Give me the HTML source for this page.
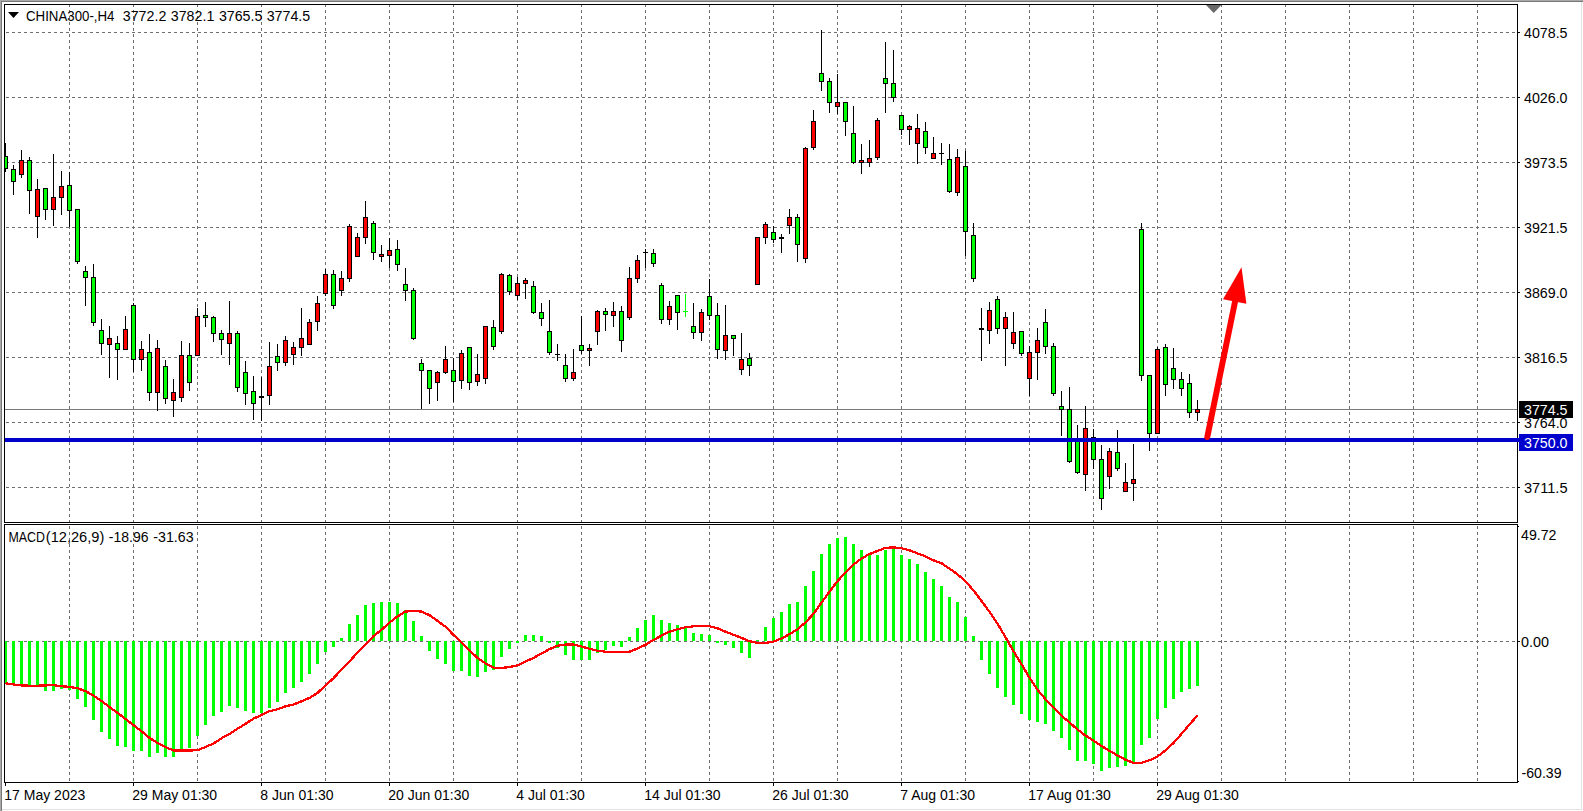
<!DOCTYPE html>
<html><head><meta charset="utf-8"><title>CHINA300-,H4</title>
<style>html,body{margin:0;padding:0;background:#fff;}body{width:1583px;height:811px;overflow:hidden;}svg{display:block;}text{font-family:"Liberation Sans",sans-serif;font-size:14px;fill:#000;}</style>
</head><body>
<svg width="1583" height="811" viewBox="0 0 1583 811">
<rect x="0" y="0" width="1583" height="811" fill="#fff"/>
<g shape-rendering="crispEdges">
<rect x="0" y="0" width="1583" height="1" fill="#a9a9a9"/>
<rect x="0" y="0" width="1" height="811" fill="#a9a9a9"/>
<rect x="1" y="1" width="1582" height="1" fill="#787878"/>
<rect x="1" y="1" width="1" height="810" fill="#787878"/>
<rect x="2" y="809" width="1580" height="1" fill="#e3e3e3"/>
<rect x="1581" y="2" width="1" height="808" fill="#e3e3e3"/>
<g stroke="#6e6e6e" stroke-width="1" stroke-dasharray="3 3" fill="none">
<line x1="69.5" y1="4" x2="69.5" y2="782"/>
<line x1="133.5" y1="4" x2="133.5" y2="782"/>
<line x1="197.5" y1="4" x2="197.5" y2="782"/>
<line x1="261.5" y1="4" x2="261.5" y2="782"/>
<line x1="325.5" y1="4" x2="325.5" y2="782"/>
<line x1="389.5" y1="4" x2="389.5" y2="782"/>
<line x1="453.5" y1="4" x2="453.5" y2="782"/>
<line x1="517.5" y1="4" x2="517.5" y2="782"/>
<line x1="581.5" y1="4" x2="581.5" y2="782"/>
<line x1="645.5" y1="4" x2="645.5" y2="782"/>
<line x1="709.5" y1="4" x2="709.5" y2="782"/>
<line x1="773.5" y1="4" x2="773.5" y2="782"/>
<line x1="837.5" y1="4" x2="837.5" y2="782"/>
<line x1="901.5" y1="4" x2="901.5" y2="782"/>
<line x1="965.5" y1="4" x2="965.5" y2="782"/>
<line x1="1029.5" y1="4" x2="1029.5" y2="782"/>
<line x1="1093.5" y1="4" x2="1093.5" y2="782"/>
<line x1="1157.5" y1="4" x2="1157.5" y2="782"/>
<line x1="1221.5" y1="4" x2="1221.5" y2="782"/>
<line x1="1285.5" y1="4" x2="1285.5" y2="782"/>
<line x1="1349.5" y1="4" x2="1349.5" y2="782"/>
<line x1="1413.5" y1="4" x2="1413.5" y2="782"/>
<line x1="1477.5" y1="4" x2="1477.5" y2="782"/>
<line x1="6" y1="32.5" x2="1517" y2="32.5"/>
<line x1="6" y1="97.5" x2="1517" y2="97.5"/>
<line x1="6" y1="162.5" x2="1517" y2="162.5"/>
<line x1="6" y1="227.5" x2="1517" y2="227.5"/>
<line x1="6" y1="292.5" x2="1517" y2="292.5"/>
<line x1="6" y1="357.5" x2="1517" y2="357.5"/>
<line x1="6" y1="422.5" x2="1517" y2="422.5"/>
<line x1="6" y1="487.5" x2="1517" y2="487.5"/>
<line x1="6" y1="641.5" x2="1517" y2="641.5"/>
</g>
<rect x="2" y="523" width="1579" height="1" fill="#fff"/>
<rect x="5" y="409" width="1512" height="1" fill="#7a7a7a"/>
<clipPath id="cm"><rect x="5" y="5" width="1512" height="517"/></clipPath><g clip-path="url(#cm)">
<rect x="5" y="143" width="1" height="29" fill="#000"/>
<rect x="3" y="156" width="5" height="13" fill="#000"/>
<rect x="4" y="157" width="3" height="11" fill="#00FF00"/>
<rect x="13" y="165" width="1" height="30" fill="#000"/>
<rect x="11" y="169" width="5" height="13" fill="#000"/>
<rect x="12" y="170" width="3" height="11" fill="#00FF00"/>
<rect x="21" y="150" width="1" height="28" fill="#000"/>
<rect x="19" y="160" width="5" height="15" fill="#000"/>
<rect x="20" y="161" width="3" height="13" fill="#FF0000"/>
<rect x="29" y="157" width="1" height="57" fill="#000"/>
<rect x="27" y="160" width="5" height="31" fill="#000"/>
<rect x="28" y="161" width="3" height="29" fill="#00FF00"/>
<rect x="37" y="179" width="1" height="59" fill="#000"/>
<rect x="35" y="189" width="5" height="28" fill="#000"/>
<rect x="36" y="190" width="3" height="26" fill="#FF0000"/>
<rect x="45" y="188" width="1" height="32" fill="#000"/>
<rect x="43" y="188" width="5" height="22" fill="#000"/>
<rect x="44" y="189" width="3" height="20" fill="#00FF00"/>
<rect x="53" y="154" width="1" height="72" fill="#000"/>
<rect x="51" y="197" width="5" height="13" fill="#000"/>
<rect x="52" y="198" width="3" height="11" fill="#FF0000"/>
<rect x="61" y="171" width="1" height="44" fill="#000"/>
<rect x="59" y="186" width="5" height="12" fill="#000"/>
<rect x="60" y="187" width="3" height="10" fill="#FF0000"/>
<rect x="69" y="172" width="1" height="55" fill="#000"/>
<rect x="67" y="185" width="5" height="26" fill="#000"/>
<rect x="68" y="186" width="3" height="24" fill="#00FF00"/>
<rect x="77" y="209" width="1" height="55" fill="#000"/>
<rect x="75" y="209" width="5" height="53" fill="#000"/>
<rect x="76" y="210" width="3" height="51" fill="#00FF00"/>
<rect x="85" y="266" width="1" height="40" fill="#000"/>
<rect x="83" y="271" width="5" height="7" fill="#000"/>
<rect x="84" y="272" width="3" height="5" fill="#00FF00"/>
<rect x="93" y="264" width="1" height="62" fill="#000"/>
<rect x="91" y="277" width="5" height="46" fill="#000"/>
<rect x="92" y="278" width="3" height="44" fill="#00FF00"/>
<rect x="101" y="319" width="1" height="36" fill="#000"/>
<rect x="99" y="330" width="5" height="14" fill="#000"/>
<rect x="100" y="331" width="3" height="12" fill="#00FF00"/>
<rect x="109" y="326" width="1" height="52" fill="#000"/>
<rect x="107" y="338" width="5" height="7" fill="#000"/>
<rect x="108" y="339" width="3" height="5" fill="#FF0000"/>
<rect x="117" y="336" width="1" height="44" fill="#000"/>
<rect x="115" y="343" width="5" height="7" fill="#000"/>
<rect x="116" y="344" width="3" height="5" fill="#00FF00"/>
<rect x="125" y="316" width="1" height="33" fill="#000"/>
<rect x="123" y="329" width="5" height="21" fill="#000"/>
<rect x="124" y="330" width="3" height="19" fill="#FF0000"/>
<rect x="133" y="303" width="1" height="69" fill="#000"/>
<rect x="131" y="305" width="5" height="55" fill="#000"/>
<rect x="132" y="306" width="3" height="53" fill="#00FF00"/>
<rect x="141" y="341" width="1" height="30" fill="#000"/>
<rect x="139" y="349" width="5" height="11" fill="#000"/>
<rect x="140" y="350" width="3" height="9" fill="#FF0000"/>
<rect x="149" y="334" width="1" height="67" fill="#000"/>
<rect x="147" y="352" width="5" height="41" fill="#000"/>
<rect x="148" y="353" width="3" height="39" fill="#00FF00"/>
<rect x="157" y="340" width="1" height="71" fill="#000"/>
<rect x="155" y="348" width="5" height="45" fill="#000"/>
<rect x="156" y="349" width="3" height="43" fill="#FF0000"/>
<rect x="165" y="360" width="1" height="44" fill="#000"/>
<rect x="163" y="366" width="5" height="33" fill="#000"/>
<rect x="164" y="367" width="3" height="31" fill="#00FF00"/>
<rect x="173" y="379" width="1" height="38" fill="#000"/>
<rect x="171" y="392" width="5" height="9" fill="#000"/>
<rect x="172" y="393" width="3" height="7" fill="#FF0000"/>
<rect x="181" y="341" width="1" height="61" fill="#000"/>
<rect x="179" y="355" width="5" height="43" fill="#000"/>
<rect x="180" y="356" width="3" height="41" fill="#FF0000"/>
<rect x="189" y="343" width="1" height="48" fill="#000"/>
<rect x="187" y="355" width="5" height="28" fill="#000"/>
<rect x="188" y="356" width="3" height="26" fill="#00FF00"/>
<rect x="197" y="308" width="1" height="47" fill="#000"/>
<rect x="195" y="316" width="5" height="40" fill="#000"/>
<rect x="196" y="317" width="3" height="38" fill="#FF0000"/>
<rect x="205" y="302" width="1" height="25" fill="#000"/>
<rect x="203" y="315" width="5" height="3" fill="#000"/>
<rect x="204" y="316" width="3" height="1" fill="#00FF00"/>
<rect x="213" y="316" width="1" height="26" fill="#000"/>
<rect x="211" y="317" width="5" height="17" fill="#000"/>
<rect x="212" y="318" width="3" height="15" fill="#00FF00"/>
<rect x="221" y="330" width="1" height="25" fill="#000"/>
<rect x="219" y="333" width="5" height="7" fill="#000"/>
<rect x="220" y="334" width="3" height="5" fill="#00FF00"/>
<rect x="229" y="301" width="1" height="64" fill="#000"/>
<rect x="227" y="333" width="5" height="11" fill="#000"/>
<rect x="228" y="334" width="3" height="9" fill="#FF0000"/>
<rect x="237" y="331" width="1" height="61" fill="#000"/>
<rect x="235" y="333" width="5" height="55" fill="#000"/>
<rect x="236" y="334" width="3" height="53" fill="#00FF00"/>
<rect x="245" y="361" width="1" height="44" fill="#000"/>
<rect x="243" y="372" width="5" height="22" fill="#000"/>
<rect x="244" y="373" width="3" height="20" fill="#00FF00"/>
<rect x="253" y="376" width="1" height="44" fill="#000"/>
<rect x="251" y="391" width="5" height="13" fill="#000"/>
<rect x="252" y="392" width="3" height="11" fill="#00FF00"/>
<rect x="261" y="377" width="1" height="44" fill="#000"/>
<rect x="259" y="396" width="5" height="1" fill="#000"/>
<rect x="259" y="396" width="5" height="2" fill="#000"/>
<rect x="269" y="342" width="1" height="63" fill="#000"/>
<rect x="267" y="366" width="5" height="30" fill="#000"/>
<rect x="268" y="367" width="3" height="28" fill="#FF0000"/>
<rect x="277" y="344" width="1" height="27" fill="#000"/>
<rect x="275" y="356" width="5" height="7" fill="#000"/>
<rect x="276" y="357" width="3" height="5" fill="#00FF00"/>
<rect x="285" y="336" width="1" height="30" fill="#000"/>
<rect x="283" y="340" width="5" height="23" fill="#000"/>
<rect x="284" y="341" width="3" height="21" fill="#FF0000"/>
<rect x="293" y="342" width="1" height="23" fill="#000"/>
<rect x="291" y="347" width="5" height="8" fill="#000"/>
<rect x="292" y="348" width="3" height="6" fill="#FF0000"/>
<rect x="301" y="308" width="1" height="48" fill="#000"/>
<rect x="299" y="338" width="5" height="10" fill="#000"/>
<rect x="300" y="339" width="3" height="8" fill="#FF0000"/>
<rect x="309" y="319" width="1" height="25" fill="#000"/>
<rect x="307" y="322" width="5" height="23" fill="#000"/>
<rect x="308" y="323" width="3" height="21" fill="#FF0000"/>
<rect x="317" y="296" width="1" height="35" fill="#000"/>
<rect x="315" y="303" width="5" height="19" fill="#000"/>
<rect x="316" y="304" width="3" height="17" fill="#FF0000"/>
<rect x="325" y="269" width="1" height="27" fill="#000"/>
<rect x="323" y="274" width="5" height="20" fill="#000"/>
<rect x="324" y="275" width="3" height="18" fill="#FF0000"/>
<rect x="333" y="270" width="1" height="39" fill="#000"/>
<rect x="331" y="274" width="5" height="32" fill="#000"/>
<rect x="332" y="275" width="3" height="30" fill="#00FF00"/>
<rect x="341" y="271" width="1" height="25" fill="#000"/>
<rect x="339" y="278" width="5" height="13" fill="#000"/>
<rect x="340" y="279" width="3" height="11" fill="#FF0000"/>
<rect x="349" y="224" width="1" height="58" fill="#000"/>
<rect x="347" y="226" width="5" height="53" fill="#000"/>
<rect x="348" y="227" width="3" height="51" fill="#FF0000"/>
<rect x="357" y="233" width="1" height="23" fill="#000"/>
<rect x="355" y="237" width="5" height="20" fill="#000"/>
<rect x="356" y="238" width="3" height="18" fill="#FF0000"/>
<rect x="365" y="201" width="1" height="43" fill="#000"/>
<rect x="363" y="217" width="5" height="21" fill="#000"/>
<rect x="364" y="218" width="3" height="19" fill="#FF0000"/>
<rect x="373" y="221" width="1" height="39" fill="#000"/>
<rect x="371" y="223" width="5" height="30" fill="#000"/>
<rect x="372" y="224" width="3" height="28" fill="#00FF00"/>
<rect x="381" y="245" width="1" height="17" fill="#000"/>
<rect x="379" y="254" width="5" height="3" fill="#000"/>
<rect x="380" y="255" width="3" height="1" fill="#FF0000"/>
<rect x="389" y="238" width="1" height="30" fill="#000"/>
<rect x="387" y="250" width="5" height="6" fill="#000"/>
<rect x="388" y="251" width="3" height="4" fill="#FF0000"/>
<rect x="397" y="240" width="1" height="31" fill="#000"/>
<rect x="395" y="249" width="5" height="16" fill="#000"/>
<rect x="396" y="250" width="3" height="14" fill="#00FF00"/>
<rect x="405" y="268" width="1" height="33" fill="#000"/>
<rect x="403" y="284" width="5" height="7" fill="#000"/>
<rect x="404" y="285" width="3" height="5" fill="#00FF00"/>
<rect x="413" y="288" width="1" height="52" fill="#000"/>
<rect x="411" y="290" width="5" height="49" fill="#000"/>
<rect x="412" y="291" width="3" height="47" fill="#00FF00"/>
<rect x="421" y="359" width="1" height="50" fill="#000"/>
<rect x="419" y="363" width="5" height="8" fill="#000"/>
<rect x="420" y="364" width="3" height="6" fill="#00FF00"/>
<rect x="429" y="370" width="1" height="34" fill="#000"/>
<rect x="427" y="370" width="5" height="19" fill="#000"/>
<rect x="428" y="371" width="3" height="17" fill="#00FF00"/>
<rect x="437" y="371" width="1" height="30" fill="#000"/>
<rect x="435" y="372" width="5" height="11" fill="#000"/>
<rect x="436" y="373" width="3" height="9" fill="#FF0000"/>
<rect x="445" y="346" width="1" height="28" fill="#000"/>
<rect x="443" y="359" width="5" height="14" fill="#000"/>
<rect x="444" y="360" width="3" height="12" fill="#FF0000"/>
<rect x="453" y="358" width="1" height="44" fill="#000"/>
<rect x="451" y="370" width="5" height="12" fill="#000"/>
<rect x="452" y="371" width="3" height="10" fill="#00FF00"/>
<rect x="461" y="350" width="1" height="39" fill="#000"/>
<rect x="459" y="353" width="5" height="28" fill="#000"/>
<rect x="460" y="354" width="3" height="26" fill="#FF0000"/>
<rect x="469" y="347" width="1" height="43" fill="#000"/>
<rect x="467" y="347" width="5" height="36" fill="#000"/>
<rect x="468" y="348" width="3" height="34" fill="#00FF00"/>
<rect x="477" y="354" width="1" height="32" fill="#000"/>
<rect x="475" y="374" width="5" height="8" fill="#000"/>
<rect x="476" y="375" width="3" height="6" fill="#FF0000"/>
<rect x="485" y="326" width="1" height="58" fill="#000"/>
<rect x="483" y="326" width="5" height="53" fill="#000"/>
<rect x="484" y="327" width="3" height="51" fill="#FF0000"/>
<rect x="493" y="320" width="1" height="30" fill="#000"/>
<rect x="491" y="327" width="5" height="20" fill="#000"/>
<rect x="492" y="328" width="3" height="18" fill="#00FF00"/>
<rect x="501" y="273" width="1" height="61" fill="#000"/>
<rect x="499" y="274" width="5" height="58" fill="#000"/>
<rect x="500" y="275" width="3" height="56" fill="#FF0000"/>
<rect x="509" y="274" width="1" height="21" fill="#000"/>
<rect x="507" y="275" width="5" height="17" fill="#000"/>
<rect x="508" y="276" width="3" height="15" fill="#00FF00"/>
<rect x="517" y="277" width="1" height="23" fill="#000"/>
<rect x="515" y="283" width="5" height="13" fill="#000"/>
<rect x="516" y="284" width="3" height="11" fill="#FF0000"/>
<rect x="525" y="278" width="1" height="21" fill="#000"/>
<rect x="523" y="280" width="5" height="4" fill="#000"/>
<rect x="524" y="281" width="3" height="2" fill="#FF0000"/>
<rect x="533" y="281" width="1" height="33" fill="#000"/>
<rect x="531" y="286" width="5" height="27" fill="#000"/>
<rect x="532" y="287" width="3" height="25" fill="#00FF00"/>
<rect x="541" y="303" width="1" height="23" fill="#000"/>
<rect x="539" y="312" width="5" height="7" fill="#000"/>
<rect x="540" y="313" width="3" height="5" fill="#00FF00"/>
<rect x="549" y="300" width="1" height="55" fill="#000"/>
<rect x="547" y="331" width="5" height="22" fill="#000"/>
<rect x="548" y="332" width="3" height="20" fill="#00FF00"/>
<rect x="557" y="344" width="1" height="17" fill="#000"/>
<rect x="555" y="354" width="5" height="1" fill="#000"/>
<rect x="565" y="354" width="1" height="28" fill="#000"/>
<rect x="563" y="365" width="5" height="14" fill="#000"/>
<rect x="564" y="366" width="3" height="12" fill="#00FF00"/>
<rect x="573" y="349" width="1" height="32" fill="#000"/>
<rect x="571" y="372" width="5" height="7" fill="#000"/>
<rect x="572" y="373" width="3" height="5" fill="#FF0000"/>
<rect x="581" y="316" width="1" height="38" fill="#000"/>
<rect x="579" y="345" width="5" height="6" fill="#000"/>
<rect x="580" y="346" width="3" height="4" fill="#00FF00"/>
<rect x="589" y="344" width="1" height="22" fill="#000"/>
<rect x="587" y="348" width="5" height="3" fill="#000"/>
<rect x="588" y="349" width="3" height="1" fill="#FF0000"/>
<rect x="597" y="310" width="1" height="35" fill="#000"/>
<rect x="595" y="311" width="5" height="21" fill="#000"/>
<rect x="596" y="312" width="3" height="19" fill="#FF0000"/>
<rect x="605" y="308" width="1" height="23" fill="#000"/>
<rect x="603" y="311" width="5" height="4" fill="#000"/>
<rect x="604" y="312" width="3" height="2" fill="#00FF00"/>
<rect x="613" y="302" width="1" height="25" fill="#000"/>
<rect x="611" y="311" width="5" height="5" fill="#000"/>
<rect x="612" y="312" width="3" height="3" fill="#FF0000"/>
<rect x="621" y="306" width="1" height="46" fill="#000"/>
<rect x="619" y="311" width="5" height="30" fill="#000"/>
<rect x="620" y="312" width="3" height="28" fill="#00FF00"/>
<rect x="629" y="267" width="1" height="53" fill="#000"/>
<rect x="627" y="278" width="5" height="40" fill="#000"/>
<rect x="628" y="279" width="3" height="38" fill="#FF0000"/>
<rect x="637" y="255" width="1" height="28" fill="#000"/>
<rect x="635" y="260" width="5" height="19" fill="#000"/>
<rect x="636" y="261" width="3" height="17" fill="#FF0000"/>
<rect x="645" y="249" width="1" height="19" fill="#000"/>
<rect x="643" y="252" width="5" height="1" fill="#000"/>
<rect x="653" y="249" width="1" height="18" fill="#000"/>
<rect x="651" y="253" width="5" height="11" fill="#000"/>
<rect x="652" y="254" width="3" height="9" fill="#00FF00"/>
<rect x="661" y="283" width="1" height="41" fill="#000"/>
<rect x="659" y="285" width="5" height="35" fill="#000"/>
<rect x="660" y="286" width="3" height="33" fill="#00FF00"/>
<rect x="669" y="301" width="1" height="24" fill="#000"/>
<rect x="667" y="306" width="5" height="14" fill="#000"/>
<rect x="668" y="307" width="3" height="12" fill="#FF0000"/>
<rect x="677" y="295" width="1" height="35" fill="#000"/>
<rect x="675" y="295" width="5" height="18" fill="#000"/>
<rect x="676" y="296" width="3" height="16" fill="#00FF00"/>
<rect x="685" y="294" width="1" height="23" fill="#00FF00"/>
<rect x="683" y="311" width="5" height="1" fill="#00FF00"/>
<rect x="693" y="303" width="1" height="36" fill="#000"/>
<rect x="691" y="326" width="5" height="7" fill="#000"/>
<rect x="692" y="327" width="3" height="5" fill="#00FF00"/>
<rect x="701" y="309" width="1" height="32" fill="#000"/>
<rect x="699" y="312" width="5" height="21" fill="#000"/>
<rect x="700" y="313" width="3" height="19" fill="#FF0000"/>
<rect x="709" y="279" width="1" height="41" fill="#000"/>
<rect x="707" y="296" width="5" height="20" fill="#000"/>
<rect x="708" y="297" width="3" height="18" fill="#00FF00"/>
<rect x="717" y="303" width="1" height="56" fill="#000"/>
<rect x="715" y="315" width="5" height="35" fill="#000"/>
<rect x="716" y="316" width="3" height="33" fill="#00FF00"/>
<rect x="725" y="305" width="1" height="55" fill="#000"/>
<rect x="723" y="335" width="5" height="16" fill="#000"/>
<rect x="724" y="336" width="3" height="14" fill="#FF0000"/>
<rect x="733" y="335" width="1" height="21" fill="#000"/>
<rect x="731" y="335" width="5" height="4" fill="#000"/>
<rect x="732" y="336" width="3" height="2" fill="#00FF00"/>
<rect x="741" y="333" width="1" height="42" fill="#000"/>
<rect x="739" y="359" width="5" height="11" fill="#000"/>
<rect x="740" y="360" width="3" height="9" fill="#FF0000"/>
<rect x="749" y="353" width="1" height="23" fill="#000"/>
<rect x="747" y="358" width="5" height="8" fill="#000"/>
<rect x="748" y="359" width="3" height="6" fill="#00FF00"/>
<rect x="757" y="237" width="1" height="47" fill="#000"/>
<rect x="755" y="237" width="5" height="48" fill="#000"/>
<rect x="756" y="238" width="3" height="46" fill="#FF0000"/>
<rect x="765" y="222" width="1" height="22" fill="#000"/>
<rect x="763" y="224" width="5" height="14" fill="#000"/>
<rect x="764" y="225" width="3" height="12" fill="#FF0000"/>
<rect x="773" y="226" width="1" height="17" fill="#000"/>
<rect x="771" y="232" width="5" height="8" fill="#000"/>
<rect x="772" y="233" width="3" height="6" fill="#00FF00"/>
<rect x="781" y="234" width="1" height="19" fill="#000"/>
<rect x="779" y="237" width="5" height="1" fill="#000"/>
<rect x="779" y="237" width="5" height="2" fill="#000"/>
<rect x="789" y="209" width="1" height="25" fill="#000"/>
<rect x="787" y="217" width="5" height="9" fill="#000"/>
<rect x="788" y="218" width="3" height="7" fill="#FF0000"/>
<rect x="797" y="214" width="1" height="48" fill="#000"/>
<rect x="795" y="217" width="5" height="28" fill="#000"/>
<rect x="796" y="218" width="3" height="26" fill="#00FF00"/>
<rect x="805" y="147" width="1" height="116" fill="#000"/>
<rect x="803" y="148" width="5" height="111" fill="#000"/>
<rect x="804" y="149" width="3" height="109" fill="#FF0000"/>
<rect x="813" y="110" width="1" height="40" fill="#000"/>
<rect x="811" y="121" width="5" height="27" fill="#000"/>
<rect x="812" y="122" width="3" height="25" fill="#FF0000"/>
<rect x="821" y="30" width="1" height="61" fill="#000"/>
<rect x="819" y="73" width="5" height="9" fill="#000"/>
<rect x="820" y="74" width="3" height="7" fill="#00FF00"/>
<rect x="829" y="78" width="1" height="35" fill="#000"/>
<rect x="827" y="81" width="5" height="22" fill="#000"/>
<rect x="828" y="82" width="3" height="20" fill="#00FF00"/>
<rect x="837" y="74" width="1" height="40" fill="#000"/>
<rect x="835" y="102" width="5" height="5" fill="#000"/>
<rect x="836" y="103" width="3" height="3" fill="#FF0000"/>
<rect x="845" y="102" width="1" height="34" fill="#000"/>
<rect x="843" y="102" width="5" height="20" fill="#000"/>
<rect x="844" y="103" width="3" height="18" fill="#00FF00"/>
<rect x="853" y="106" width="1" height="58" fill="#000"/>
<rect x="851" y="133" width="5" height="30" fill="#000"/>
<rect x="852" y="134" width="3" height="28" fill="#00FF00"/>
<rect x="861" y="144" width="1" height="30" fill="#000"/>
<rect x="859" y="160" width="5" height="3" fill="#000"/>
<rect x="860" y="161" width="3" height="1" fill="#FF0000"/>
<rect x="869" y="140" width="1" height="27" fill="#000"/>
<rect x="867" y="158" width="5" height="5" fill="#000"/>
<rect x="868" y="159" width="3" height="3" fill="#FF0000"/>
<rect x="877" y="118" width="1" height="42" fill="#000"/>
<rect x="875" y="120" width="5" height="38" fill="#000"/>
<rect x="876" y="121" width="3" height="36" fill="#FF0000"/>
<rect x="885" y="42" width="1" height="71" fill="#000"/>
<rect x="883" y="78" width="5" height="6" fill="#000"/>
<rect x="884" y="79" width="3" height="4" fill="#00FF00"/>
<rect x="893" y="50" width="1" height="52" fill="#000"/>
<rect x="891" y="83" width="5" height="15" fill="#000"/>
<rect x="892" y="84" width="3" height="13" fill="#00FF00"/>
<rect x="901" y="115" width="1" height="20" fill="#000"/>
<rect x="899" y="115" width="5" height="15" fill="#000"/>
<rect x="900" y="116" width="3" height="13" fill="#00FF00"/>
<rect x="909" y="125" width="1" height="20" fill="#000"/>
<rect x="907" y="126" width="5" height="4" fill="#000"/>
<rect x="908" y="127" width="3" height="2" fill="#FF0000"/>
<rect x="917" y="114" width="1" height="50" fill="#000"/>
<rect x="915" y="128" width="5" height="16" fill="#000"/>
<rect x="916" y="129" width="3" height="14" fill="#FF0000"/>
<rect x="925" y="122" width="1" height="32" fill="#000"/>
<rect x="923" y="131" width="5" height="17" fill="#000"/>
<rect x="924" y="132" width="3" height="15" fill="#00FF00"/>
<rect x="933" y="137" width="1" height="21" fill="#000"/>
<rect x="931" y="153" width="5" height="6" fill="#000"/>
<rect x="932" y="154" width="3" height="4" fill="#FF0000"/>
<rect x="941" y="143" width="1" height="22" fill="#000"/>
<rect x="939" y="153" width="5" height="1" fill="#000"/>
<rect x="949" y="144" width="1" height="49" fill="#000"/>
<rect x="947" y="159" width="5" height="33" fill="#000"/>
<rect x="948" y="160" width="3" height="31" fill="#00FF00"/>
<rect x="957" y="149" width="1" height="47" fill="#000"/>
<rect x="955" y="157" width="5" height="36" fill="#000"/>
<rect x="956" y="158" width="3" height="34" fill="#FF0000"/>
<rect x="965" y="151" width="1" height="105" fill="#000"/>
<rect x="963" y="166" width="5" height="66" fill="#000"/>
<rect x="964" y="167" width="3" height="64" fill="#00FF00"/>
<rect x="973" y="223" width="1" height="59" fill="#000"/>
<rect x="971" y="235" width="5" height="44" fill="#000"/>
<rect x="972" y="236" width="3" height="42" fill="#00FF00"/>
<rect x="981" y="308" width="1" height="53" fill="#000"/>
<rect x="979" y="328" width="5" height="1" fill="#000"/>
<rect x="979" y="328" width="5" height="2" fill="#000"/>
<rect x="989" y="302" width="1" height="42" fill="#000"/>
<rect x="987" y="310" width="5" height="21" fill="#000"/>
<rect x="988" y="311" width="3" height="19" fill="#FF0000"/>
<rect x="997" y="296" width="1" height="38" fill="#000"/>
<rect x="995" y="299" width="5" height="30" fill="#000"/>
<rect x="996" y="300" width="3" height="28" fill="#00FF00"/>
<rect x="1005" y="312" width="1" height="54" fill="#000"/>
<rect x="1003" y="317" width="5" height="12" fill="#000"/>
<rect x="1004" y="318" width="3" height="10" fill="#FF0000"/>
<rect x="1013" y="312" width="1" height="37" fill="#000"/>
<rect x="1011" y="332" width="5" height="12" fill="#000"/>
<rect x="1012" y="333" width="3" height="10" fill="#FF0000"/>
<rect x="1021" y="331" width="1" height="25" fill="#000"/>
<rect x="1019" y="331" width="5" height="23" fill="#000"/>
<rect x="1020" y="332" width="3" height="21" fill="#00FF00"/>
<rect x="1029" y="346" width="1" height="50" fill="#000"/>
<rect x="1027" y="352" width="5" height="27" fill="#000"/>
<rect x="1028" y="353" width="3" height="25" fill="#FF0000"/>
<rect x="1037" y="328" width="1" height="52" fill="#000"/>
<rect x="1035" y="340" width="5" height="13" fill="#000"/>
<rect x="1036" y="341" width="3" height="11" fill="#FF0000"/>
<rect x="1045" y="309" width="1" height="45" fill="#000"/>
<rect x="1043" y="322" width="5" height="25" fill="#000"/>
<rect x="1044" y="323" width="3" height="23" fill="#00FF00"/>
<rect x="1053" y="343" width="1" height="53" fill="#000"/>
<rect x="1051" y="346" width="5" height="48" fill="#000"/>
<rect x="1052" y="347" width="3" height="46" fill="#00FF00"/>
<rect x="1061" y="391" width="1" height="45" fill="#000"/>
<rect x="1059" y="406" width="5" height="4" fill="#000"/>
<rect x="1060" y="407" width="3" height="2" fill="#00FF00"/>
<rect x="1069" y="387" width="1" height="76" fill="#000"/>
<rect x="1067" y="409" width="5" height="53" fill="#000"/>
<rect x="1068" y="410" width="3" height="51" fill="#00FF00"/>
<rect x="1077" y="425" width="1" height="49" fill="#000"/>
<rect x="1075" y="438" width="5" height="35" fill="#000"/>
<rect x="1076" y="439" width="3" height="33" fill="#00FF00"/>
<rect x="1085" y="406" width="1" height="85" fill="#000"/>
<rect x="1083" y="428" width="5" height="47" fill="#000"/>
<rect x="1084" y="429" width="3" height="45" fill="#FF0000"/>
<rect x="1093" y="429" width="1" height="40" fill="#000"/>
<rect x="1091" y="437" width="5" height="23" fill="#000"/>
<rect x="1092" y="438" width="3" height="21" fill="#00FF00"/>
<rect x="1101" y="445" width="1" height="65" fill="#000"/>
<rect x="1099" y="459" width="5" height="40" fill="#000"/>
<rect x="1100" y="460" width="3" height="38" fill="#00FF00"/>
<rect x="1109" y="448" width="1" height="41" fill="#000"/>
<rect x="1107" y="451" width="5" height="26" fill="#000"/>
<rect x="1108" y="452" width="3" height="24" fill="#FF0000"/>
<rect x="1117" y="430" width="1" height="41" fill="#000"/>
<rect x="1115" y="452" width="5" height="17" fill="#000"/>
<rect x="1116" y="453" width="3" height="15" fill="#00FF00"/>
<rect x="1125" y="463" width="1" height="29" fill="#000"/>
<rect x="1123" y="482" width="5" height="10" fill="#000"/>
<rect x="1124" y="483" width="3" height="8" fill="#FF0000"/>
<rect x="1133" y="444" width="1" height="57" fill="#000"/>
<rect x="1131" y="479" width="5" height="5" fill="#000"/>
<rect x="1132" y="480" width="3" height="3" fill="#FF0000"/>
<rect x="1141" y="223" width="1" height="158" fill="#000"/>
<rect x="1139" y="229" width="5" height="147" fill="#000"/>
<rect x="1140" y="230" width="3" height="145" fill="#00FF00"/>
<rect x="1149" y="375" width="1" height="76" fill="#000"/>
<rect x="1147" y="375" width="5" height="59" fill="#000"/>
<rect x="1148" y="376" width="3" height="57" fill="#00FF00"/>
<rect x="1157" y="347" width="1" height="86" fill="#000"/>
<rect x="1155" y="349" width="5" height="85" fill="#000"/>
<rect x="1156" y="350" width="3" height="83" fill="#FF0000"/>
<rect x="1165" y="344" width="1" height="52" fill="#000"/>
<rect x="1163" y="347" width="5" height="38" fill="#000"/>
<rect x="1164" y="348" width="3" height="36" fill="#00FF00"/>
<rect x="1173" y="348" width="1" height="41" fill="#000"/>
<rect x="1171" y="368" width="5" height="12" fill="#000"/>
<rect x="1172" y="369" width="3" height="10" fill="#00FF00"/>
<rect x="1181" y="372" width="1" height="24" fill="#000"/>
<rect x="1179" y="379" width="5" height="10" fill="#000"/>
<rect x="1180" y="380" width="3" height="8" fill="#00FF00"/>
<rect x="1189" y="374" width="1" height="44" fill="#000"/>
<rect x="1187" y="383" width="5" height="30" fill="#000"/>
<rect x="1188" y="384" width="3" height="28" fill="#00FF00"/>
<rect x="1197" y="400" width="1" height="21" fill="#000"/>
<rect x="1195" y="409" width="5" height="4" fill="#000"/>
<rect x="1196" y="410" width="3" height="2" fill="#FF0000"/>
</g>
<rect x="4" y="641" width="3" height="42" fill="#00FF00"/>
<rect x="12" y="641" width="3" height="44" fill="#00FF00"/>
<rect x="20" y="641" width="3" height="44" fill="#00FF00"/>
<rect x="28" y="641" width="3" height="45" fill="#00FF00"/>
<rect x="36" y="641" width="3" height="45" fill="#00FF00"/>
<rect x="44" y="641" width="3" height="50" fill="#00FF00"/>
<rect x="52" y="641" width="3" height="50" fill="#00FF00"/>
<rect x="60" y="641" width="3" height="48" fill="#00FF00"/>
<rect x="68" y="641" width="3" height="49" fill="#00FF00"/>
<rect x="76" y="641" width="3" height="58" fill="#00FF00"/>
<rect x="84" y="641" width="3" height="66" fill="#00FF00"/>
<rect x="92" y="641" width="3" height="79" fill="#00FF00"/>
<rect x="100" y="641" width="3" height="91" fill="#00FF00"/>
<rect x="108" y="641" width="3" height="98" fill="#00FF00"/>
<rect x="116" y="641" width="3" height="105" fill="#00FF00"/>
<rect x="124" y="641" width="3" height="106" fill="#00FF00"/>
<rect x="132" y="641" width="3" height="110" fill="#00FF00"/>
<rect x="140" y="641" width="3" height="110" fill="#00FF00"/>
<rect x="148" y="641" width="3" height="116" fill="#00FF00"/>
<rect x="156" y="641" width="3" height="112" fill="#00FF00"/>
<rect x="164" y="641" width="3" height="116" fill="#00FF00"/>
<rect x="172" y="641" width="3" height="116" fill="#00FF00"/>
<rect x="180" y="641" width="3" height="109" fill="#00FF00"/>
<rect x="188" y="641" width="3" height="107" fill="#00FF00"/>
<rect x="196" y="641" width="3" height="95" fill="#00FF00"/>
<rect x="204" y="641" width="3" height="84" fill="#00FF00"/>
<rect x="212" y="641" width="3" height="75" fill="#00FF00"/>
<rect x="220" y="641" width="3" height="71" fill="#00FF00"/>
<rect x="228" y="641" width="3" height="65" fill="#00FF00"/>
<rect x="236" y="641" width="3" height="67" fill="#00FF00"/>
<rect x="244" y="641" width="3" height="70" fill="#00FF00"/>
<rect x="252" y="641" width="3" height="72" fill="#00FF00"/>
<rect x="260" y="641" width="3" height="72" fill="#00FF00"/>
<rect x="268" y="641" width="3" height="67" fill="#00FF00"/>
<rect x="276" y="641" width="3" height="61" fill="#00FF00"/>
<rect x="284" y="641" width="3" height="52" fill="#00FF00"/>
<rect x="292" y="641" width="3" height="47" fill="#00FF00"/>
<rect x="300" y="641" width="3" height="41" fill="#00FF00"/>
<rect x="308" y="641" width="3" height="33" fill="#00FF00"/>
<rect x="316" y="641" width="3" height="23" fill="#00FF00"/>
<rect x="324" y="641" width="3" height="11" fill="#00FF00"/>
<rect x="332" y="641" width="3" height="6" fill="#00FF00"/>
<rect x="340" y="638" width="3" height="3" fill="#00FF00"/>
<rect x="348" y="624" width="3" height="17" fill="#00FF00"/>
<rect x="356" y="615" width="3" height="26" fill="#00FF00"/>
<rect x="364" y="605" width="3" height="36" fill="#00FF00"/>
<rect x="372" y="603" width="3" height="38" fill="#00FF00"/>
<rect x="380" y="602" width="3" height="39" fill="#00FF00"/>
<rect x="388" y="602" width="3" height="39" fill="#00FF00"/>
<rect x="396" y="603" width="3" height="38" fill="#00FF00"/>
<rect x="404" y="610" width="3" height="31" fill="#00FF00"/>
<rect x="412" y="621" width="3" height="20" fill="#00FF00"/>
<rect x="420" y="636" width="3" height="5" fill="#00FF00"/>
<rect x="428" y="641" width="3" height="10" fill="#00FF00"/>
<rect x="436" y="641" width="3" height="18" fill="#00FF00"/>
<rect x="444" y="641" width="3" height="23" fill="#00FF00"/>
<rect x="452" y="641" width="3" height="30" fill="#00FF00"/>
<rect x="460" y="641" width="3" height="30" fill="#00FF00"/>
<rect x="468" y="641" width="3" height="35" fill="#00FF00"/>
<rect x="476" y="641" width="3" height="36" fill="#00FF00"/>
<rect x="484" y="641" width="3" height="31" fill="#00FF00"/>
<rect x="492" y="641" width="3" height="29" fill="#00FF00"/>
<rect x="500" y="641" width="3" height="16" fill="#00FF00"/>
<rect x="508" y="641" width="3" height="8" fill="#00FF00"/>
<rect x="516" y="641" width="3" height="2" fill="#00FF00"/>
<rect x="524" y="635" width="3" height="6" fill="#00FF00"/>
<rect x="532" y="635" width="3" height="6" fill="#00FF00"/>
<rect x="540" y="636" width="3" height="5" fill="#00FF00"/>
<rect x="548" y="641" width="3" height="2" fill="#00FF00"/>
<rect x="556" y="641" width="3" height="7" fill="#00FF00"/>
<rect x="564" y="641" width="3" height="14" fill="#00FF00"/>
<rect x="572" y="641" width="3" height="19" fill="#00FF00"/>
<rect x="580" y="641" width="3" height="19" fill="#00FF00"/>
<rect x="588" y="641" width="3" height="19" fill="#00FF00"/>
<rect x="596" y="641" width="3" height="12" fill="#00FF00"/>
<rect x="604" y="641" width="3" height="9" fill="#00FF00"/>
<rect x="612" y="641" width="3" height="5" fill="#00FF00"/>
<rect x="620" y="641" width="3" height="6" fill="#00FF00"/>
<rect x="628" y="637" width="3" height="4" fill="#00FF00"/>
<rect x="636" y="628" width="3" height="13" fill="#00FF00"/>
<rect x="644" y="620" width="3" height="21" fill="#00FF00"/>
<rect x="652" y="615" width="3" height="26" fill="#00FF00"/>
<rect x="660" y="620" width="3" height="21" fill="#00FF00"/>
<rect x="668" y="623" width="3" height="18" fill="#00FF00"/>
<rect x="676" y="625" width="3" height="16" fill="#00FF00"/>
<rect x="684" y="628" width="3" height="13" fill="#00FF00"/>
<rect x="692" y="633" width="3" height="8" fill="#00FF00"/>
<rect x="700" y="634" width="3" height="7" fill="#00FF00"/>
<rect x="708" y="635" width="3" height="6" fill="#00FF00"/>
<rect x="716" y="641" width="3" height="2" fill="#00FF00"/>
<rect x="724" y="641" width="3" height="4" fill="#00FF00"/>
<rect x="732" y="641" width="3" height="7" fill="#00FF00"/>
<rect x="740" y="641" width="3" height="12" fill="#00FF00"/>
<rect x="748" y="641" width="3" height="17" fill="#00FF00"/>
<rect x="756" y="640" width="3" height="1" fill="#00FF00"/>
<rect x="764" y="627" width="3" height="14" fill="#00FF00"/>
<rect x="772" y="618" width="3" height="23" fill="#00FF00"/>
<rect x="780" y="612" width="3" height="29" fill="#00FF00"/>
<rect x="788" y="604" width="3" height="37" fill="#00FF00"/>
<rect x="796" y="602" width="3" height="39" fill="#00FF00"/>
<rect x="804" y="586" width="3" height="55" fill="#00FF00"/>
<rect x="812" y="571" width="3" height="70" fill="#00FF00"/>
<rect x="820" y="554" width="3" height="87" fill="#00FF00"/>
<rect x="828" y="544" width="3" height="97" fill="#00FF00"/>
<rect x="836" y="538" width="3" height="103" fill="#00FF00"/>
<rect x="844" y="537" width="3" height="104" fill="#00FF00"/>
<rect x="852" y="544" width="3" height="97" fill="#00FF00"/>
<rect x="860" y="550" width="3" height="91" fill="#00FF00"/>
<rect x="868" y="555" width="3" height="86" fill="#00FF00"/>
<rect x="876" y="555" width="3" height="86" fill="#00FF00"/>
<rect x="884" y="550" width="3" height="91" fill="#00FF00"/>
<rect x="892" y="549" width="3" height="92" fill="#00FF00"/>
<rect x="900" y="555" width="3" height="86" fill="#00FF00"/>
<rect x="908" y="559" width="3" height="82" fill="#00FF00"/>
<rect x="916" y="564" width="3" height="77" fill="#00FF00"/>
<rect x="924" y="572" width="3" height="69" fill="#00FF00"/>
<rect x="932" y="579" width="3" height="62" fill="#00FF00"/>
<rect x="940" y="586" width="3" height="55" fill="#00FF00"/>
<rect x="948" y="597" width="3" height="44" fill="#00FF00"/>
<rect x="956" y="602" width="3" height="39" fill="#00FF00"/>
<rect x="964" y="617" width="3" height="24" fill="#00FF00"/>
<rect x="972" y="636" width="3" height="5" fill="#00FF00"/>
<rect x="980" y="641" width="3" height="19" fill="#00FF00"/>
<rect x="988" y="641" width="3" height="33" fill="#00FF00"/>
<rect x="996" y="641" width="3" height="47" fill="#00FF00"/>
<rect x="1004" y="641" width="3" height="56" fill="#00FF00"/>
<rect x="1012" y="641" width="3" height="64" fill="#00FF00"/>
<rect x="1020" y="641" width="3" height="73" fill="#00FF00"/>
<rect x="1028" y="641" width="3" height="79" fill="#00FF00"/>
<rect x="1036" y="641" width="3" height="81" fill="#00FF00"/>
<rect x="1044" y="641" width="3" height="83" fill="#00FF00"/>
<rect x="1052" y="641" width="3" height="90" fill="#00FF00"/>
<rect x="1060" y="641" width="3" height="97" fill="#00FF00"/>
<rect x="1068" y="641" width="3" height="109" fill="#00FF00"/>
<rect x="1076" y="641" width="3" height="120" fill="#00FF00"/>
<rect x="1084" y="641" width="3" height="120" fill="#00FF00"/>
<rect x="1092" y="641" width="3" height="123" fill="#00FF00"/>
<rect x="1100" y="641" width="3" height="130" fill="#00FF00"/>
<rect x="1108" y="641" width="3" height="127" fill="#00FF00"/>
<rect x="1116" y="641" width="3" height="126" fill="#00FF00"/>
<rect x="1124" y="641" width="3" height="125" fill="#00FF00"/>
<rect x="1132" y="641" width="3" height="121" fill="#00FF00"/>
<rect x="1140" y="641" width="3" height="104" fill="#00FF00"/>
<rect x="1148" y="641" width="3" height="97" fill="#00FF00"/>
<rect x="1156" y="641" width="3" height="78" fill="#00FF00"/>
<rect x="1164" y="641" width="3" height="67" fill="#00FF00"/>
<rect x="1172" y="641" width="3" height="58" fill="#00FF00"/>
<rect x="1180" y="641" width="3" height="51" fill="#00FF00"/>
<rect x="1188" y="641" width="3" height="48" fill="#00FF00"/>
<rect x="1196" y="641" width="3" height="45" fill="#00FF00"/>
</g>
<polyline points="5.5,683.2 13.5,684.5 21.5,685.4 29.5,685.7 37.5,685.7 45.5,685.4 53.5,685.2 61.5,686.2 69.5,686.9 77.5,688.2 85.5,691.1 93.5,695.6 101.5,701.0 109.5,707.1 117.5,712.8 125.5,719.0 133.5,725.1 141.5,731.3 149.5,738.0 157.5,742.9 165.5,747.1 173.5,750.5 181.5,750.4 189.5,750.4 197.5,750.3 205.5,747.0 213.5,743.5 221.5,738.3 229.5,733.9 237.5,728.7 245.5,723.8 253.5,718.6 261.5,715.1 269.5,711.2 277.5,709.2 285.5,706.3 293.5,704.5 301.5,701.3 309.5,697.9 317.5,692.9 325.5,685.5 333.5,678.2 341.5,669.5 349.5,661.4 357.5,652.6 365.5,644.8 373.5,636.1 381.5,629.8 389.5,622.6 397.5,616.4 405.5,611.5 413.5,611.0 421.5,611.5 429.5,615.2 437.5,620.9 445.5,626.8 453.5,634.9 461.5,642.3 469.5,650.5 477.5,657.9 485.5,663.3 493.5,667.7 501.5,668.0 509.5,667.0 517.5,665.3 525.5,661.6 533.5,657.9 541.5,653.4 549.5,649.2 557.5,645.7 565.5,644.6 573.5,644.6 581.5,646.5 589.5,648.8 597.5,650.7 605.5,651.7 613.5,651.7 621.5,651.7 629.5,651.7 637.5,648.5 645.5,644.8 653.5,639.9 661.5,635.7 669.5,631.7 677.5,629.3 685.5,627.3 693.5,626.3 701.5,626.1 709.5,626.3 717.5,628.3 725.5,631.7 733.5,634.8 741.5,637.9 749.5,641.2 757.5,642.9 765.5,642.9 773.5,641.6 781.5,638.4 789.5,634.2 797.5,629.3 805.5,622.4 813.5,613.8 821.5,602.7 829.5,591.6 837.5,581.2 845.5,572.3 853.5,564.5 861.5,558.5 869.5,554.1 877.5,550.9 885.5,547.9 893.5,547.4 901.5,548.3 909.5,550.3 917.5,553.4 925.5,556.3 933.5,560.3 941.5,563.2 949.5,568.6 957.5,574.3 965.5,581.2 973.5,590.4 981.5,601.0 989.5,611.8 997.5,623.6 1005.5,637.2 1013.5,651.3 1021.5,664.2 1029.5,677.8 1037.5,689.8 1045.5,699.2 1053.5,707.6 1061.5,715.7 1069.5,722.5 1077.5,729.5 1085.5,735.6 1093.5,740.6 1101.5,746.0 1109.5,750.9 1117.5,755.4 1125.5,759.8 1133.5,762.8 1141.5,762.8 1149.5,760.3 1157.5,756.6 1165.5,750.4 1173.5,743.0 1181.5,733.9 1189.5,724.5 1197.5,715.4" fill="none" stroke="#FF0000" stroke-width="2.3" stroke-linejoin="round" shape-rendering="crispEdges"/>
<rect x="5" y="438" width="1514" height="4" fill="#0000cc" shape-rendering="crispEdges"/>
<line x1="1207.3" y1="437" x2="1236" y2="297" stroke="#FF0000" stroke-width="6" stroke-linecap="round"/>
<polygon points="1241.5,267.3 1223,299.3 1246.4,303.8" fill="#FF0000"/>
<g shape-rendering="crispEdges">
<rect x="4" y="4" width="1514" height="1" fill="#000"/>
<rect x="4" y="522" width="1514" height="1" fill="#000"/>
<rect x="4" y="4" width="1" height="519" fill="#000"/>
<rect x="1517" y="4" width="1" height="519" fill="#000"/>
<rect x="4" y="524" width="1514" height="1" fill="#000"/>
<rect x="4" y="782" width="1514" height="1" fill="#000"/>
<rect x="4" y="524" width="1" height="259" fill="#000"/>
<rect x="1517" y="524" width="1" height="259" fill="#000"/>
<rect x="1517" y="438" width="2" height="4" fill="#0000cc"/>
<rect x="1518" y="32" width="2" height="1" fill="#000"/>
<rect x="1518" y="97" width="2" height="1" fill="#000"/>
<rect x="1518" y="162" width="2" height="1" fill="#000"/>
<rect x="1518" y="227" width="2" height="1" fill="#000"/>
<rect x="1518" y="292" width="2" height="1" fill="#000"/>
<rect x="1518" y="357" width="2" height="1" fill="#000"/>
<rect x="1518" y="422" width="2" height="1" fill="#000"/>
<rect x="1518" y="487" width="2" height="1" fill="#000"/>
<rect x="1518" y="641" width="2" height="1" fill="#000"/>
<rect x="1518" y="526" width="1" height="1" fill="#000"/>
<rect x="1518" y="781" width="1" height="1" fill="#000"/>
<rect x="5" y="783" width="1" height="3" fill="#000"/>
<rect x="133" y="783" width="1" height="3" fill="#000"/>
<rect x="261" y="783" width="1" height="3" fill="#000"/>
<rect x="389" y="783" width="1" height="3" fill="#000"/>
<rect x="517" y="783" width="1" height="3" fill="#000"/>
<rect x="645" y="783" width="1" height="3" fill="#000"/>
<rect x="773" y="783" width="1" height="3" fill="#000"/>
<rect x="901" y="783" width="1" height="3" fill="#000"/>
<rect x="1029" y="783" width="1" height="3" fill="#000"/>
<rect x="1157" y="783" width="1" height="3" fill="#000"/>
<rect x="1519" y="401" width="54" height="17" fill="#000"/>
<rect x="1519" y="434" width="54" height="17" fill="#0000cc"/>
</g>
<polygon points="8,12 19,12 13.5,18" fill="#000"/>
<polygon points="1206,5 1221.5,5 1213.7,13" fill="#696969"/>
<text x="26" y="21" textLength="88.5" lengthAdjust="spacingAndGlyphs">CHINA300-,H4</text>
<text x="122.8" y="21" textLength="43.5" lengthAdjust="spacingAndGlyphs">3772.2</text>
<text x="170.8" y="21" textLength="43.5" lengthAdjust="spacingAndGlyphs">3782.1</text>
<text x="218.9" y="21" textLength="43.5" lengthAdjust="spacingAndGlyphs">3765.5</text>
<text x="266.7" y="21" textLength="43.5" lengthAdjust="spacingAndGlyphs">3774.5</text>
<text x="8.5" y="542" textLength="36.5" lengthAdjust="spacingAndGlyphs">MACD</text>
<text x="45.8" y="542" textLength="58.5" lengthAdjust="spacingAndGlyphs">(12,26,9)</text>
<text x="108.8" y="542" textLength="39.7" lengthAdjust="spacingAndGlyphs">-18.96</text>
<text x="153.3" y="542" textLength="40.3" lengthAdjust="spacingAndGlyphs">-31.63</text>
<text x="1524" y="38" textLength="43.5" lengthAdjust="spacingAndGlyphs">4078.5</text>
<text x="1524" y="103" textLength="43.5" lengthAdjust="spacingAndGlyphs">4026.0</text>
<text x="1524" y="168" textLength="43.5" lengthAdjust="spacingAndGlyphs">3973.5</text>
<text x="1524" y="233" textLength="43.5" lengthAdjust="spacingAndGlyphs">3921.5</text>
<text x="1524" y="298" textLength="43.5" lengthAdjust="spacingAndGlyphs">3869.0</text>
<text x="1524" y="363" textLength="43.5" lengthAdjust="spacingAndGlyphs">3816.5</text>
<text x="1524" y="428" textLength="43.5" lengthAdjust="spacingAndGlyphs">3764.0</text>
<text x="1524" y="493" textLength="43.5" lengthAdjust="spacingAndGlyphs">3711.5</text>
<text x="1524" y="415" fill="#fff" style="fill:#fff" textLength="43.5" lengthAdjust="spacingAndGlyphs">3774.5</text>
<text x="1524" y="448" fill="#fff" style="fill:#fff" textLength="43.5" lengthAdjust="spacingAndGlyphs">3750.0</text>
<text x="1521" y="539.6" textLength="35.5" lengthAdjust="spacingAndGlyphs">49.72</text>
<text x="1521" y="647" textLength="28" lengthAdjust="spacingAndGlyphs">0.00</text>
<text x="1521.5" y="777.7" textLength="40" lengthAdjust="spacingAndGlyphs">-60.39</text>
<text x="4.3" y="800">17 May 2023</text>
<text x="132.3" y="800">29 May 01:30</text>
<text x="260.3" y="800">8 Jun 01:30</text>
<text x="388.3" y="800">20 Jun 01:30</text>
<text x="516.3" y="800">4 Jul 01:30</text>
<text x="644.3" y="800">14 Jul 01:30</text>
<text x="772.3" y="800">26 Jul 01:30</text>
<text x="900.3" y="800">7 Aug 01:30</text>
<text x="1028.3" y="800">17 Aug 01:30</text>
<text x="1156.3" y="800">29 Aug 01:30</text>
</svg></body></html>
